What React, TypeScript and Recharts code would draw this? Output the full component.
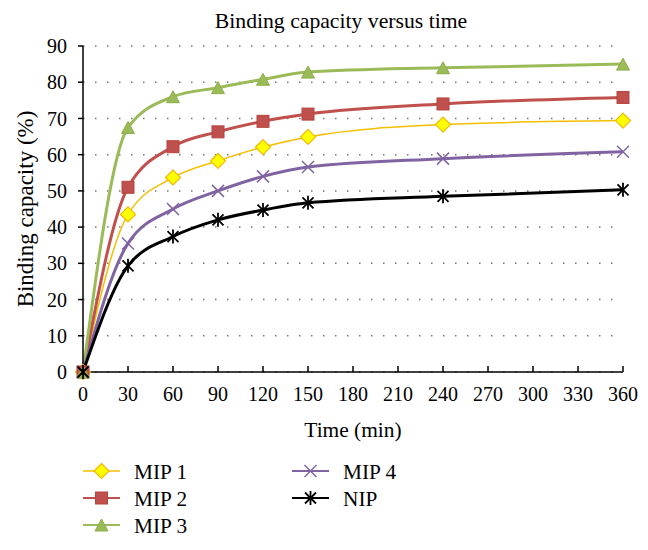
import { LineChart, Line, XAxis, YAxis, CartesianGrid } from "recharts";

// sampling times (min)
const TIMES = [0, 30, 60, 90, 120, 150, 240, 360];

// binding capacity (%) per polymer
const MIP1 = [0, 43.5, 53.7, 58.3, 62.1, 64.9, 68.3, 69.4];
const MIP2 = [0, 51, 62.2, 66.3, 69.2, 71.2, 74, 75.8];
const MIP3 = [0, 67.5, 76, 78.5, 80.8, 82.8, 84, 85];
const MIP4 = [0, 35.5, 45, 50, 54, 56.6, 58.9, 60.8];
const NIP = [0, 29.3, 37.4, 42, 44.7, 46.7, 48.5, 50.3];

const X_TICKS = [0, 30, 60, 90, 120, 150, 180, 210, 240, 270, 300, 330, 360];
const Y_TICKS = [0, 10, 20, 30, 40, 50, 60, 70, 80, 90];

const FONT = '"Liberation Serif", "DejaVu Serif", serif';

type MarkerKind = "diamond" | "square" | "triangle" | "cross" | "star";

const SERIES: {
  key: string;
  name: string;
  color: string;
  width: number;
  marker: MarkerKind;
}[] = [
  { key: "mip1", name: "MIP 1", color: "#F5BE00", width: 1.5, marker: "diamond" },
  { key: "mip2", name: "MIP 2", color: "#C0504D", width: 3, marker: "square" },
  { key: "mip3", name: "MIP 3", color: "#9BBB59", width: 3, marker: "triangle" },
  { key: "mip4", name: "MIP 4", color: "#8064A2", width: 3, marker: "cross" },
  { key: "nip", name: "NIP", color: "#000000", width: 3, marker: "star" },
];

const data = TIMES.map((t, i) => ({
  time: t,
  mip1: MIP1[i],
  mip2: MIP2[i],
  mip3: MIP3[i],
  mip4: MIP4[i],
  nip: NIP[i],
}));

function Marker({ kind, cx, cy }: { kind: MarkerKind; cx: number; cy: number }) {
  switch (kind) {
    case "diamond":
      return (
        <path
          d={`M${cx},${cy - 7.5}L${cx + 7.5},${cy}L${cx},${cy + 7.5}L${cx - 7.5},${cy}Z`}
          fill="#FFFF00"
          stroke="#F2B705"
          strokeWidth={1.2}
        />
      );
    case "square":
      return <rect x={cx - 6} y={cy - 6} width={12} height={12} fill="#C0504D" stroke="#B5443F" strokeWidth={1} />;
    case "triangle":
      return (
        <path
          d={`M${cx},${cy - 6}L${cx + 6.5},${cy + 6}L${cx - 6.5},${cy + 6}Z`}
          fill="#9BBB59"
          stroke="#8EAE4C"
          strokeWidth={1}
        />
      );
    case "cross":
      return (
        <g stroke="#8064A2" strokeWidth={1.5}>
          <line x1={cx - 6} y1={cy - 6} x2={cx + 6} y2={cy + 6} />
          <line x1={cx - 6} y1={cy + 6} x2={cx + 6} y2={cy - 6} />
        </g>
      );
    default:
      return (
        <g stroke="#000" strokeWidth={1.8}>
          <line x1={cx - 5.5} y1={cy - 5.5} x2={cx + 5.5} y2={cy + 5.5} />
          <line x1={cx - 5.5} y1={cy + 5.5} x2={cx + 5.5} y2={cy - 5.5} />
          <line x1={cx} y1={cy - 7} x2={cx} y2={cy + 7} />
        </g>
      );
  }
}

function XTick(props: any) {
  const { x, y, payload } = props;
  // y = axis line + tickMargin (15); ticks point inward
  return (
    <g>
      <line x1={x} x2={x} y1={y - 15} y2={y - 21} stroke="#000" strokeWidth={1.5} />
      <text x={x} y={y + 14} textAnchor="middle" fontFamily={FONT} fontSize={20} fill="#000">
        {payload.value}
      </text>
    </g>
  );
}

function ChartLegend() {
  const rows = [
    { s: SERIES[0], x: 83, y: 471 },
    { s: SERIES[1], x: 83, y: 498 },
    { s: SERIES[2], x: 83, y: 525 },
    { s: SERIES[3], x: 292, y: 471 },
    { s: SERIES[4], x: 292, y: 498 },
  ];
  return (
    <svg width={648} height={550} style={{ position: "absolute", left: 0, top: 0, pointerEvents: "none" }}>
      {rows.map(({ s, x, y }) => (
        <g key={s.key}>
          <line x1={x} x2={x + 37} y1={y} y2={y} stroke={s.color} strokeWidth={s.width === 3 ? 2 : 1.5} />
          <Marker kind={s.marker} cx={x + 18.5} cy={y} />
          <text x={x + 51} y={y + 7.5} fontFamily={FONT} fontSize={21.3} fill="#000">
            {s.name}
          </text>
        </g>
      ))}
    </svg>
  );
}

export default function App() {
  return (
    <div style={{ position: "absolute", left: 0, top: 0, width: 648, height: 550, background: "#fff", fontFamily: FONT }}>
      <div
        style={{
          position: "absolute",
          top: 10,
          left: 141,
          width: 400,
          textAlign: "center",
          fontSize: 21.7,
          lineHeight: "22px",
          color: "#000",
        }}
      >
        Binding capacity versus time
      </div>
      <LineChart width={648} height={550} data={data} margin={{ top: 46, right: 25, bottom: 0, left: 0 }}>
        <CartesianGrid
          vertical={false}
          stroke="#777"
          strokeWidth={1.5}
          strokeDasharray="1.5 10.5"
        />
        <XAxis
          dataKey="time"
          type="number"
          domain={[0, 360]}
          ticks={X_TICKS}
          interval={0}
          height={178}
          tickSize={0}
          tickMargin={15}
          tickLine={false}
          axisLine={{ stroke: "#000", strokeWidth: 1.5 }}
          tick={<XTick />}
          label={{
            value: "Time (min)",
            position: "insideTop",
            offset: 50,
            style: { fontSize: 21.4, fontFamily: FONT, fill: "#000" },
          }}
        />
        <YAxis
          type="number"
          domain={[0, 90]}
          ticks={Y_TICKS}
          interval={0}
          width={83}
          tickSize={5}
          tickMargin={11}
          tickLine={{ stroke: "#000", strokeWidth: 1.5 }}
          axisLine={{ stroke: "#000", strokeWidth: 1.5 }}
          tick={{ fontSize: 20, fontFamily: FONT, fill: "#000" }}
          label={{
            value: "Binding capacity (%)",
            angle: -90,
            position: "insideLeft",
            offset: 25,
            style: { fontSize: 23, fontFamily: FONT, fill: "#000", textAnchor: "middle" },
          }}
        />
        {SERIES.map((s) => (
          <Line
            key={s.key}
            dataKey={s.key}
            name={s.name}
            type="monotone"
            stroke={s.color}
            strokeWidth={s.width}
            isAnimationActive={false}
            activeDot={false}
            dot={(p: any) => <Marker key={`${s.key}-${p.index}`} kind={s.marker} cx={p.cx} cy={p.cy} />}
          />
        ))}
      </LineChart>
      <ChartLegend />
    </div>
  );
}
